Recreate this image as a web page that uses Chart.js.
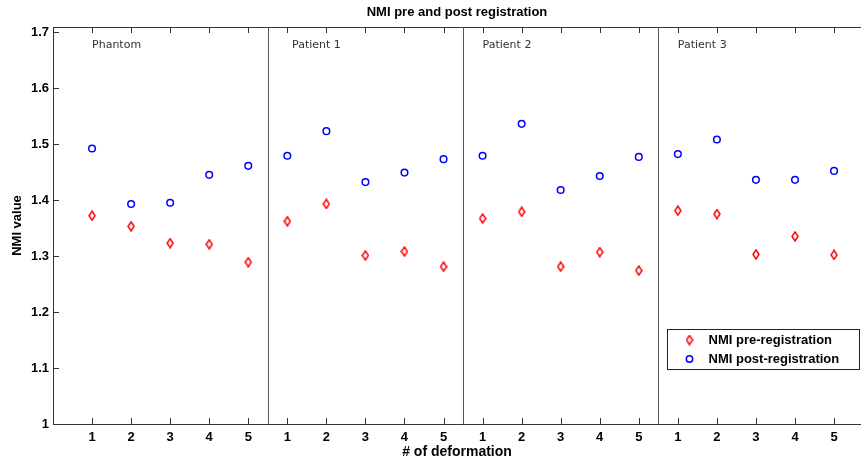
<!DOCTYPE html>
<html>
<head>
<meta charset="utf-8">
<script src="https://cdn.jsdelivr.net/npm/chart.js@4/dist/chart.umd.min.js"></script>
<style>
  body { margin: 0; background: #fff; }
  #wrap { width: 862px; height: 461px; }
</style>
</head>
<body>
<div id="wrap"><canvas id="nmi-chart" width="862" height="461"></canvas></div>
<script>
  // deformation index inside each group, and the groups themselves
  var deformations = [1, 2, 3, 4, 5];
  var groups = ['Phantom', 'Patient 1', 'Patient 2', 'Patient 3'];
  var yTicks = [1, 1.1, 1.2, 1.3, 1.4, 1.5, 1.6, 1.7];
  var chartTitle = 'NMI pre and post registration';

  // NMI values, 5 per group
  var nmiPre = [
    1.372, 1.353, 1.323, 1.321, 1.289,
    1.362, 1.393, 1.301, 1.308, 1.281,
    1.367, 1.379, 1.281, 1.307, 1.274,
    1.381, 1.375, 1.303, 1.335, 1.302
  ];
  var nmiPost = [
    1.492, 1.393, 1.395, 1.445, 1.461,
    1.479, 1.523, 1.432, 1.449, 1.473,
    1.479, 1.536, 1.418, 1.443, 1.477,
    1.482, 1.508, 1.436, 1.436, 1.452
  ];

  var toPoints = function (values) {
    return values.map(function (v, i) { return { x: i + 1, y: v }; });
  };

  // matlab style narrow diamond marker
  var diamond = document.createElement('canvas');
  diamond.width = 8;
  diamond.height = 11;
  (function () {
    var c = diamond.getContext('2d');
    c.strokeStyle = '#ff0000';
    c.lineWidth = 1.5;
    c.beginPath();
    c.moveTo(4, 1);
    c.lineTo(7, 5.5);
    c.lineTo(4, 10);
    c.lineTo(1, 5.5);
    c.closePath();
    c.stroke();
  })();

  var frameColor = '#333333';
  var sepColor = '#555555';
  var boldFont = '"Liberation Sans", Arial, sans-serif';

  // axes box, inward ticks, group separators, group names and the title
  var framePlugin = {
    id: 'frame',
    afterDatasetsDraw: function (chart) {
      var ctx = chart.ctx;
      var a = chart.chartArea;
      var xs = chart.scales.x;
      var ys = chart.scales.y;
      ctx.save();
      ctx.lineWidth = 1;
      ctx.strokeStyle = frameColor;
      ctx.beginPath();
      ctx.moveTo(a.left + 0.5, a.top);
      ctx.lineTo(a.left + 0.5, a.bottom + 0.5);
      ctx.lineTo(a.right, a.bottom + 0.5);
      ctx.moveTo(a.left, a.top + 0.5);
      ctx.lineTo(a.right, a.top + 0.5);
      ctx.stroke();

      var n = groups.length * deformations.length;
      ctx.beginPath();
      for (var i = 1; i <= n; i++) {
        var px = Math.round(xs.getPixelForValue(i)) + 0.5;
        ctx.moveTo(px, a.bottom);
        ctx.lineTo(px, a.bottom - 6);
        ctx.moveTo(px, a.top);
        ctx.lineTo(px, a.top + 6);
      }
      yTicks.forEach(function (t) {
        var py = Math.round(ys.getPixelForValue(t)) + 0.5;
        ctx.moveTo(a.left, py);
        ctx.lineTo(a.left + 6, py);
      });
      ctx.stroke();

      ctx.strokeStyle = sepColor;
      ctx.beginPath();
      for (var g = 1; g < groups.length; g++) {
        var sx = Math.round(xs.getPixelForValue(g * deformations.length + 0.5)) + 0.5;
        ctx.moveTo(sx, a.top);
        ctx.lineTo(sx, a.bottom);
      }
      ctx.stroke();

      ctx.fillStyle = '#333';
      ctx.font = '11px "DejaVu Sans", Verdana, sans-serif';
      ctx.textBaseline = 'middle';
      ctx.textAlign = 'left';
      var labelOffset = [0, 0.12, 0, 0];
      groups.forEach(function (name, g) {
        var lx = xs.getPixelForValue(g * deformations.length + 1 + labelOffset[g]);
        ctx.fillText(name, lx, a.top + 18);
      });

      ctx.fillStyle = '#000';
      ctx.font = 'bold 13px ' + boldFont;
      ctx.textAlign = 'center';
      ctx.fillText(chartTitle, (a.left + a.right) / 2, 12);
      ctx.restore();
    }
  };

  // legend box in the lower right corner of the plot
  var legendPlugin = {
    id: 'boxLegend',
    afterDraw: function (chart) {
      var ctx = chart.ctx;
      var a = chart.chartArea;
      var w = 192, h = 40;
      var x0 = Math.round(a.right - 194) + 0.5;
      var y0 = Math.round(a.bottom - 95) + 0.5;
      ctx.save();
      ctx.fillStyle = '#fff';
      ctx.fillRect(x0, y0, w, h);
      ctx.strokeStyle = '#222';
      ctx.lineWidth = 1;
      ctx.strokeRect(x0, y0, w, h);
      ctx.font = 'bold 13px ' + boldFont;
      ctx.fillStyle = '#000';
      ctx.textBaseline = 'middle';
      chart.data.datasets.forEach(function (ds, i) {
        var cy = y0 + 10.5 + i * 19;
        if (i === 0) {
          ctx.drawImage(diamond, x0 + 18, cy - 5.5);
        } else {
          ctx.beginPath();
          ctx.strokeStyle = '#0000ff';
          ctx.lineWidth = 1.5;
          ctx.arc(x0 + 22, cy, 3.2, 0, Math.PI * 2);
          ctx.stroke();
        }
        ctx.fillText(ds.label, x0 + 41, cy);
      });
      ctx.restore();
    }
  };

  var nmiConfig = {
    type: 'scatter',
    data: {
      datasets: [{
        label: 'NMI pre-registration',
        data: toPoints(nmiPre),
        pointStyle: diamond,
        pointRadius: 5,
        pointHoverRadius: 5
      }, {
        label: 'NMI post-registration',
        data: toPoints(nmiPost),
        pointStyle: 'circle',
        pointRadius: 3.3,
        pointHoverRadius: 3.3,
        borderColor: '#0000ff',
        backgroundColor: 'rgba(0,0,0,0)',
        borderWidth: 1.5
      }]
    },
    options: {
      responsive: false,
      animation: false,
      events: [],
      layout: {
        autoPadding: false,
        padding: { top: 27, right: 1, left: 0, bottom: 0 }
      },
      plugins: {
        legend: { display: false },
        tooltip: { enabled: false },
        title: { display: false }
      },
      scales: {
        x: {
          type: 'linear',
          min: 0,
          max: 20.69,
          afterBuildTicks: function (scale) {
            var t = [];
            groups.forEach(function (g, gi) {
              deformations.forEach(function (d, di) {
                t.push({ value: gi * deformations.length + di + 1 });
              });
            });
            scale.ticks = t;
          },
          afterFit: function (scale) {
            scale.height = 37;
            scale.paddingLeft = 0;
            scale.paddingRight = 0;
          },
          grid: { display: false, drawTicks: false },
          border: { display: false },
          ticks: {
            autoSkip: false,
            maxRotation: 0,
            padding: 6,
            color: '#000',
            font: { family: boldFont, size: 13, weight: 'bold' },
            callback: function (v) {
              return deformations[(v - 1) % deformations.length];
            }
          },
          title: {
            display: true,
            text: '# of deformation',
            color: '#000',
            font: { family: boldFont, size: 14, weight: 'bold' },
            padding: { top: 0, bottom: 0 }
          }
        },
        y: {
          min: 1,
          max: 1.709,
          afterBuildTicks: function (scale) {
            scale.ticks = yTicks.map(function (v) { return { value: v }; });
          },
          afterFit: function (scale) {
            scale.width = 53;
            scale.paddingTop = 0;
            scale.paddingBottom = 0;
          },
          grid: { display: false, drawTicks: false },
          border: { display: false },
          ticks: {
            padding: 4,
            color: '#000',
            font: { family: boldFont, size: 13, weight: 'bold' },
            callback: function (v) { return String(Math.round(v * 10) / 10); }
          },
          title: {
            display: true,
            text: 'NMI value',
            color: '#000',
            font: { family: boldFont, size: 13, weight: 'bold' },
            padding: { top: 10, bottom: 0 }
          }
        }
      }
    },
    plugins: [framePlugin, legendPlugin]
  };

  window.onload = function () {
    var ctx = document.getElementById('nmi-chart').getContext('2d');
    window.nmiChart = new Chart(ctx, nmiConfig);
  };
</script>
</body>
</html>
